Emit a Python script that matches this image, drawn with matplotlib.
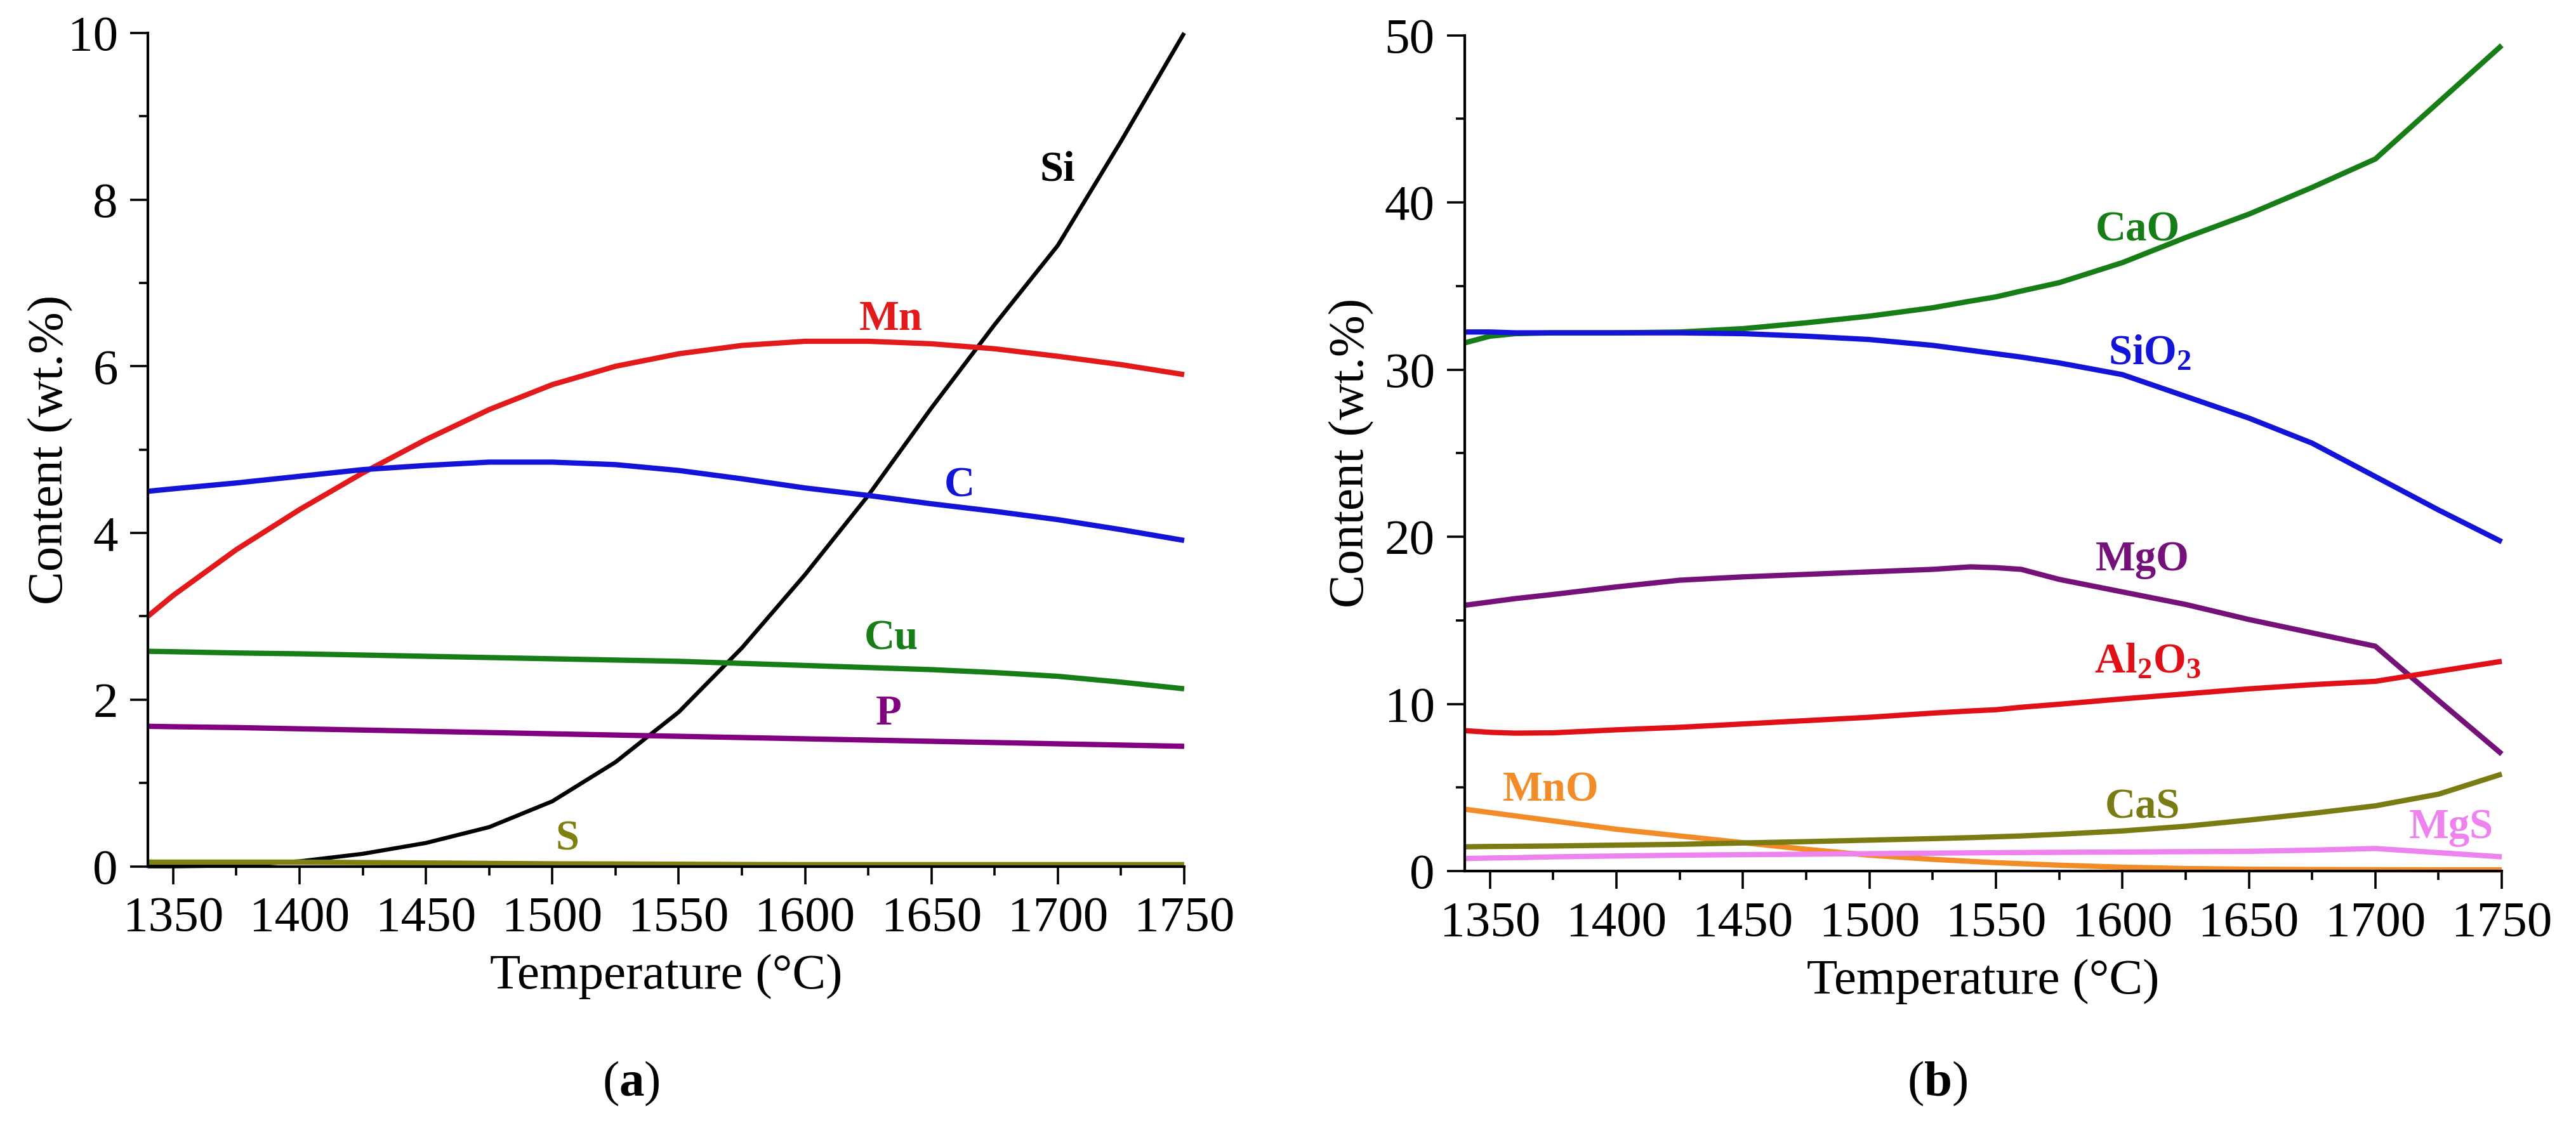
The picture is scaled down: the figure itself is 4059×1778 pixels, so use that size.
import matplotlib
matplotlib.use("Agg")
from matplotlib import pyplot as plt
from matplotlib.ticker import MultipleLocator

plt.rcParams["font.family"] = ["Liberation Serif", "DejaVu Serif"]
plt.rcParams["mathtext.fontset"] = "custom"
plt.rcParams["mathtext.rm"] = "Liberation Serif"
plt.rcParams["mathtext.bf"] = "Liberation Serif:bold"
plt.rcParams["mathtext.it"] = "Liberation Serif:italic"
plt.rcParams["mathtext.default"] = "regular"

# (a) metal phase
temp_a = [1340, 1350, 1375, 1400, 1425, 1450, 1475, 1500, 1525, 1550,
          1575, 1600, 1625, 1650, 1675, 1700, 1725, 1750]
si = [0.0, 0.0, 0.01, 0.06, 0.15, 0.28, 0.47, 0.78, 1.25, 1.85,
      2.62, 3.5, 4.45, 5.5, 6.5, 7.45, 8.7, 10.0]
mn = [3.0, 3.25, 3.8, 4.28, 4.72, 5.12, 5.48, 5.78, 6.0, 6.15,
      6.25, 6.3, 6.3, 6.27, 6.21, 6.12, 6.02, 5.9]
c = [4.5, 4.53, 4.6, 4.68, 4.76, 4.81, 4.85, 4.85, 4.82, 4.75,
     4.65, 4.54, 4.45, 4.35, 4.26, 4.16, 4.04, 3.91]
cu = [2.58, 2.575, 2.56, 2.55, 2.535, 2.52, 2.505, 2.49, 2.475, 2.46,
      2.435, 2.41, 2.385, 2.36, 2.325, 2.28, 2.21, 2.13]
p = [1.68, 1.675, 1.665, 1.65, 1.635, 1.62, 1.605, 1.59, 1.575, 1.56,
     1.545, 1.53, 1.515, 1.5, 1.485, 1.47, 1.455, 1.44]
s = [0.05, 0.05, 0.05, 0.05, 0.045, 0.04, 0.035, 0.03, 0.028, 0.025,
     0.022, 0.02, 0.02, 0.02, 0.02, 0.02, 0.02, 0.02]

# (b) slag phase
temp_b = [1340, 1350, 1360, 1375, 1400, 1425, 1450, 1475, 1500, 1525, 1540,
          1550, 1560, 1575, 1600, 1625, 1650, 1675, 1700, 1725, 1750]
cao = [31.6, 32.0, 32.15, 32.2, 32.2, 32.25, 32.45, 32.8, 33.2, 33.7, 34.1,
       34.35, 34.7, 35.2, 36.4, 37.9, 39.3, 40.9, 42.6, 46.0, 49.4]
sio2 = [32.25, 32.25, 32.2, 32.2, 32.2, 32.2, 32.15, 32.0, 31.8, 31.45, 31.15,
        30.95, 30.75, 30.4, 29.7, 28.4, 27.1, 25.6, 23.6, 21.6, 19.7]
mgo = [15.9, 16.1, 16.3, 16.55, 17.0, 17.4, 17.6, 17.75, 17.9, 18.05, 18.2,
       18.15, 18.05, 17.45, 16.7, 15.95, 15.05, 14.25, 13.45, 10.2, 7.0]
al2o3 = [8.4, 8.3, 8.25, 8.27, 8.45, 8.6, 8.8, 9.0, 9.2, 9.45, 9.58,
         9.65, 9.8, 9.98, 10.3, 10.6, 10.9, 11.15, 11.35, 11.95, 12.55]
mno = [3.7, 3.5, 3.3, 3.0, 2.5, 2.1, 1.7, 1.3, 0.95, 0.7, 0.58,
       0.5, 0.44, 0.35, 0.23, 0.15, 0.11, 0.09, 0.08, 0.07, 0.07]
cas = [1.45, 1.47, 1.48, 1.5, 1.55, 1.6, 1.68, 1.76, 1.85, 1.94, 2.0,
       2.05, 2.1, 2.2, 2.4, 2.68, 3.05, 3.45, 3.9, 4.6, 5.8]
mgs = [0.75, 0.78, 0.8, 0.85, 0.9, 0.95, 0.98, 1.01, 1.04, 1.07, 1.09,
       1.1, 1.11, 1.12, 1.14, 1.16, 1.18, 1.25, 1.35, 1.1, 0.85]

curves_a = [
    (si, "black", 4.6, "Si", 1700, 8.23),
    (mn, "#e31a1c", 6.0, "Mn", 1634, 6.44),
    (c, "#1414d8", 6.0, "C", 1661, 4.44),
    (cu, "#177d17", 6.0, "Cu", 1634, 2.60),
    (p, "#800080", 6.0, "P", 1633, 1.70),
    (s, "#808010", 6.0, "S", 1506, 0.20),
]
curves_b = [
    (cao, "#177d17", 6.0, "CaO", 1606, 37.7),
    (sio2, "#1414d8", 6.0, "SiO$_2$", 1611, 30.3),
    (mgo, "#74127a", 6.0, "MgO", 1608, 18.0),
    (al2o3, "#e01018", 6.0, "Al$_2$O$_3$", 1610, 11.9),
    (mno, "#f28c28", 6.0, "MnO", 1374, 4.2),
    (cas, "#7b7b14", 6.0, "CaS", 1608, 3.15),
    (mgs, "#ee82ee", 6.0, "MgS", 1730, 1.97),
]

fig = plt.figure(figsize=(40.59, 17.78), dpi=100)
ax_a = fig.add_axes([0.0574, 0.2320, 0.4023, 0.7388])
ax_b = fig.add_axes([0.5686, 0.2278, 0.4026, 0.7409])


def style_axes(ax, ymax, ymajor, yminor):
    ax.set_xlim(1340, 1750)
    ax.set_ylim(0, ymax)
    ax.xaxis.set_major_locator(MultipleLocator(50))
    ax.xaxis.set_minor_locator(MultipleLocator(25))
    ax.yaxis.set_major_locator(MultipleLocator(ymajor))
    ax.yaxis.set_minor_locator(MultipleLocator(yminor))
    for side in ["top", "right"]:
        ax.spines[side].set_visible(False)
    for side in ["left", "bottom"]:
        ax.spines[side].set_linewidth(3.0)
    ax.tick_params(which="major", direction="out", length=20, width=2.6,
                   labelsize=57, pad=14)
    ax.tick_params(which="minor", direction="out", length=10, width=2.6)
    ax.set_xlabel("Temperature (°C)", fontsize=57, labelpad=14)
    ax.set_ylabel("Content (wt.%)", fontsize=57)


for ax, temps, curves in [(ax_a, temp_a, curves_a), (ax_b, temp_b, curves_b)]:
    for vals, col, lw, name, tx, ty in curves:
        ax.plot(temps, vals, color=col, linewidth=lw, solid_capstyle="butt",
                clip_on=False)
        ax.text(tx, ty, name, color=col, fontsize=48, fontweight="bold",
                ha="center", va="baseline")

style_axes(ax_a, 10, 2, 1)
style_axes(ax_b, 50, 10, 5)
ax_a.yaxis.set_label_coords(-0.072, 0.5)
ax_b.yaxis.set_label_coords(-0.087, 0.5)

fig.text(0.245, 0.039, "($\\mathbf{a}$)", fontsize=57, ha="center", va="center")
fig.text(0.752, 0.039, "($\\mathbf{b}$)", fontsize=57, ha="center", va="center")

fig.savefig("out.png", dpi=100)
